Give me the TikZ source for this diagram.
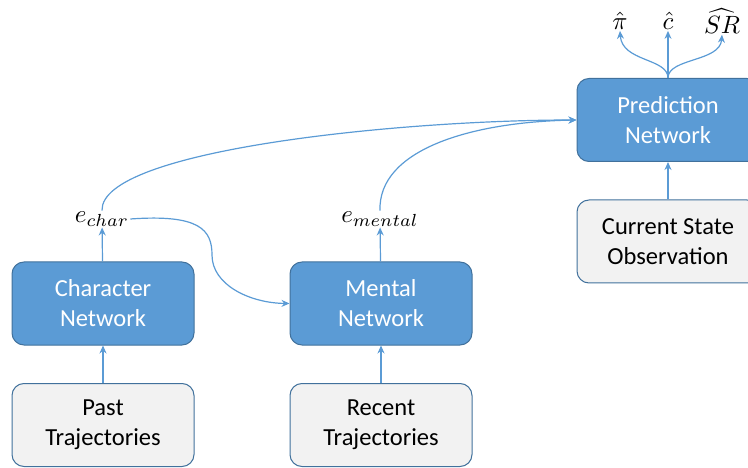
\documentclass[tikz,border=0pt]{standalone}
\usepackage{fontspec}
\setmainfont{Carlito}
\usetikzlibrary{arrows.meta}
\definecolor{boxblue}{HTML}{5B9BD5}
\definecolor{boxedge}{HTML}{41719C}
\definecolor{lightbox}{HTML}{F2F2F2}
\definecolor{arrowblue}{HTML}{5B9BD5}
\newcommand{\mylabmath}[1]{\scalebox{2.5}{$#1$}}
\tikzset{
  netbox/.style={draw=boxedge, fill=boxblue, line width=1pt, rounded corners=12pt,
    minimum width=182pt, minimum height=83pt, align=center, text=white,
    font=\fontsize{24.5}{30}\selectfont, inner sep=0pt},
  inbox/.style={netbox, fill=lightbox, text=black},
  lab/.style={inner sep=1pt},
  conn/.style={draw=arrowblue, line width=1.2pt, -{Stealth[length=8pt,width=7pt]}}
}
\begin{document}
\begin{tikzpicture}[x=1pt,y=-1pt]
\useasboundingbox (0,0) rectangle (748,468);
\node[netbox] (char) at (103,303.5) {Character\\Network};
\node[netbox] (mental) at (381,303.5) {Mental\\Network};
\node[inbox] (past) at (103,425) {Past\\Trajectories};
\node[inbox] (recent) at (381,425) {Recent\\Trajectories};
\node[netbox] (pred) at (668,120) {Prediction\\Network};
\node[inbox] (obs) at (668,241.5) {Current State\\Observation};
\node[lab] (echar) at (102,219) {\mylabmath{e_{char}}};
\node[lab] (ement) at (380,219) {\mylabmath{e_{mental}}};
\node[lab] (pi) at (620,21) {\mylabmath{\hat{\pi}}};
\node[lab] (c) at (668,21) {\mylabmath{\hat{c}}};
\node[lab] (sr) at (722,21) {\mylabmath{\widehat{SR}}};
\coordinate (ptop) at (668,78);
\draw[conn] (past) -- (char);
\draw[conn] (recent) -- (mental);
\draw[conn] (char) -- (echar);
\draw[conn] (mental) -- (ement);
\draw[conn] (obs) -- (pred);
\draw[conn] (echar.north) .. controls (100,150) and (400,120) .. (pred.west);
\draw[conn] (ement.north) .. controls (378,150) and (470,122) .. (pred.west);
\draw[conn] (echar.east) .. controls (200,214) and (212,230) .. (212,255) .. controls (212,285) and (250,303) .. (mental.west);
\draw[conn] (ptop) -- (c.south);
\draw[conn] (ptop) .. controls (668,58) and (622,62) .. (pi.south);
\draw[conn] (ptop) .. controls (668,58) and (720,62) .. (sr.south);
\end{tikzpicture}
\end{document}
